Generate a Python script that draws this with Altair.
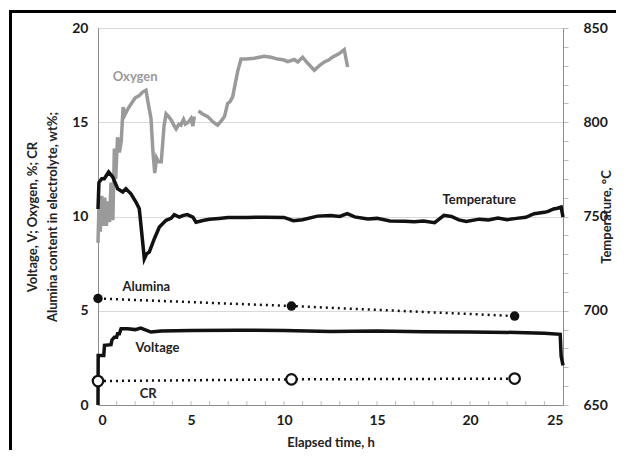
import altair as alt
import pandas as pd

# ---- data ----
oxy_h = [0, 0.05, 0.12, 0.2, 0.28, 0.36, 0.45, 0.55, 0.62, 0.7, 0.8, 0.88, 0.95, 1.05, 1.15, 1.25,
         1.35, 1.45, 1.6, 1.8, 2.0, 2.2, 2.4, 2.58, 2.7, 2.85, 2.95, 3.05, 3.15, 3.25, 3.4, 3.55,
         3.66, 3.8, 3.95, 4.1, 4.2, 4.35, 4.46, 4.6, 4.7, 4.85, 5.0, 5.1, 5.18]
oxy_v = [8.6, 10.5, 9.2, 11.1, 9.5, 11.0, 9.5, 10.8, 9.7, 11.8, 9.8, 13.6, 12.0, 14.2, 13.4, 14.0,
         15.8, 15.4, 15.7, 16.0, 16.3, 16.4, 16.6, 16.7, 16.0, 15.2, 13.5, 12.3, 13.1, 12.9, 12.9, 14.8,
         15.45, 15.3, 15.1, 14.8, 14.65, 14.9, 14.85, 15.15, 14.9, 15.0, 15.2, 14.8, 15.3]
oxy2_h = [5.4, 5.6, 5.9, 6.2, 6.43, 6.65, 6.8, 6.97, 7.1, 7.24, 7.35, 7.51, 7.69, 8.0, 8.4, 8.94,
          9.3, 9.66, 10.0, 10.2, 10.55, 10.74, 11.0, 11.3, 11.63, 11.9, 12.17, 12.4, 12.6, 12.97,
          13.24, 13.42]
oxy2_v = [15.6, 15.45, 15.3, 15.0, 14.85, 15.1, 15.3, 16.0, 16.1, 16.35, 16.9, 17.7, 18.35, 18.35,
          18.4, 18.5, 18.45, 18.35, 18.3, 18.22, 18.33, 18.2, 18.45, 18.1, 17.76, 18.0, 18.2, 18.3,
          18.45, 18.64, 18.85, 17.93]

volt_h = [0, 0.01, 0.31, 0.35, 0.7, 0.75, 0.88, 1.0, 1.05, 1.15, 1.24, 1.6, 2.0, 2.3, 2.85, 3.4,
          5.0, 7.5, 10.0, 12.5, 15.0, 17.5, 20.0, 22.5, 24.0, 24.85, 24.9, 25.0]
volt_v = [0, 2.63, 2.63, 3.17, 3.2, 3.45, 3.6, 3.6, 3.78, 3.78, 4.05, 4.05, 4.0, 4.08, 3.87, 3.93,
          3.95, 3.97, 3.95, 3.9, 3.92, 3.88, 3.87, 3.85, 3.8, 3.75, 2.6, 2.1]

temp_h = [0, 0.05, 0.2, 0.34, 0.57, 0.79, 1.06, 1.33, 1.5, 1.77, 2.04, 2.22, 2.4, 2.49, 2.6, 2.76,
          3.03, 3.3, 3.66, 3.93, 4.1, 4.37, 4.55, 4.8, 5.1, 5.27, 5.7, 6.0, 6.5, 7.0, 8.0, 9.0, 10.0,
          10.5, 11.0, 11.8, 12.5, 13.0, 13.4, 13.8, 14.5, 15.0, 15.7, 16.5, 17.0, 17.5, 18.1, 18.6,
          19.0, 19.4, 19.8, 20.5, 21.0, 21.5, 22.0, 22.5, 23.0, 23.45, 24.0, 24.2, 24.5, 24.7, 24.9,
          25.0]
temp_c = [754, 768, 770, 770, 773.6, 771, 764.7, 763, 764.7, 762, 757.7, 754.1, 736.5, 727.6, 730,
          731.2, 738.2, 744.4, 748, 749, 751, 749.7, 750.5, 751, 749.7, 747, 748, 748.5, 749, 749.5,
          749.5, 749.6, 749.5, 747.8, 748.3, 750.2, 750.5, 750, 751.5, 749.8, 748.7, 749, 747.6,
          747.5, 747.2, 747.6, 746.7, 750.6, 750, 748.2, 747.4, 748.6, 748.2, 749.2, 748.3, 749,
          749.6, 751.5, 752.2, 752.7, 754, 754.4, 755, 749.7]

alum_h = [0, 10.4, 22.4]
alum_v = [5.65, 5.25, 4.72]
cr_h = [0, 10.4, 22.4]
cr_v = [1.27, 1.36, 1.4]

label_text = ["Oxygen", "Temperature", "Alumina", "Voltage", "CR"]
label_h = [2.0, 20.5, 2.6, 3.2, 2.7]
label_v = [17.4, 10.85, 6.25, 3.05, 0.6]
label_col = ["#9a9a9a", "#222222", "#222222", "#222222", "#222222"]

x_ticks = list(range(0, 26))
temp_ticks = list(range(650, 851, 10))

# ---- tables ----
oxy = pd.DataFrame({"h": oxy_h + oxy2_h, "v": oxy_v + oxy2_v,
                    "seg": [1] * len(oxy_h) + [2] * len(oxy2_h)})
oxy["i"] = range(len(oxy))
volt = pd.DataFrame({"h": volt_h, "v": volt_v})
volt["i"] = range(len(volt))
temp = pd.DataFrame({"h": temp_h, "t": temp_c})
alum = pd.DataFrame({"h": alum_h, "v": alum_v})
cr = pd.DataFrame({"h": cr_h, "v": cr_v})
labels = pd.DataFrame({"h": label_h, "v": label_v, "txt": label_text, "col": label_col})
ticks = pd.DataFrame({"h": x_ticks[1:-1]})
dummy = pd.DataFrame({"a": [0]})

FONT = "Lato"
W, H = 465, 377

X = alt.X("h:Q", scale=alt.Scale(domain=[0, 25], nice=False),
          axis=alt.Axis(title="Elapsed time, h", values=x_ticks,
                        labelExpr="datum.value % 5 == 0 ? datum.label : ''",
                        ticks=False, grid=False, domainColor="#8c8c8c",
                        labelPadding=8, titlePadding=9))
Y = alt.Y("v:Q", scale=alt.Scale(domain=[0, 20], nice=False),
          axis=alt.Axis(title=["Voltage, V; Oxygen, %; CR",
                               "Alumina content in electrolyte, wt%;"],
                        values=[0, 5, 10, 15, 20], ticks=False, grid=True,
                        gridColor="#d9d9d9", domainColor="#8c8c8c",
                        labelPadding=10, titlePadding=12, titleLineHeight=20))

oxy_line = alt.Chart(oxy).mark_line(color="#9a9a9a", strokeWidth=3.5).encode(
    x=X, y=Y, detail="seg:N", order="i:Q")
volt_line = alt.Chart(volt).mark_line(color="#111111", strokeWidth=3.5).encode(
    x=X, y=Y, order="i:Q")
alum_line = alt.Chart(alum).mark_line(color="#111111", strokeWidth=2.5,
                                      strokeDash=[2, 4]).encode(x=X, y=Y)
alum_pt = alt.Chart(alum).mark_point(filled=True, color="#111111", size=90,
                                     opacity=1).encode(x=X, y=Y)
cr_line = alt.Chart(cr).mark_line(color="#111111", strokeWidth=2.5,
                                  strokeDash=[2, 4]).encode(x=X, y=Y)
cr_pt = alt.Chart(cr).mark_point(filled=False, color="#111111", size=110,
                                 strokeWidth=2.2, opacity=1, fill="white").encode(x=X, y=Y)
txt = alt.Chart(labels).mark_text(font=FONT, fontSize=13, fontWeight="bold").encode(
    x=X, y=Y, text="txt:N", color=alt.Color("col:N", scale=None))
xt = alt.Chart(ticks).mark_rule(color="#bdbdbd", strokeWidth=1).encode(
    x=X, y=alt.value(H), y2=alt.value(H - 4))

frame_top = alt.Chart(dummy).mark_rule(color="black", strokeWidth=3).encode(
    x=alt.value(-88), x2=alt.value(518), y=alt.value(-16.5))
frame_left = alt.Chart(dummy).mark_rule(color="black", strokeWidth=3).encode(
    x=alt.value(-87.5), y=alt.value(-18), y2=alt.value(422))

left = alt.layer(oxy_line, volt_line, alum_line, cr_line, alum_pt, cr_pt, txt, xt,
                 frame_top, frame_left)

temp_line = alt.Chart(temp).mark_line(color="#111111", strokeWidth=3.5).encode(
    x=X,
    y=alt.Y("t:Q", scale=alt.Scale(domain=[650, 850], nice=False),
            axis=alt.Axis(title="Temperature, °C", orient="right", values=temp_ticks,
                          labelExpr="datum.value % 50 == 0 ? datum.label : ''",
                          tickSize=5, tickColor="#bdbdbd", grid=False,
                          domainColor="#8c8c8c", labelPadding=15, titlePadding=6,
                          titleAngle=270)))

chart = alt.layer(left, temp_line).resolve_scale(y="independent").properties(
    width=W, height=H, padding=0
).configure_view(stroke="#8c8c8c").configure_axis(
    labelFont=FONT, labelFontSize=14, labelFontWeight="bold", labelColor="#1a1a1a",
    titleFont=FONT, titleFontSize=13, titleFontWeight="bold", titleColor="#222222"
)

chart.save("out.html", embed_options={"renderer": "svg", "actions": False})
